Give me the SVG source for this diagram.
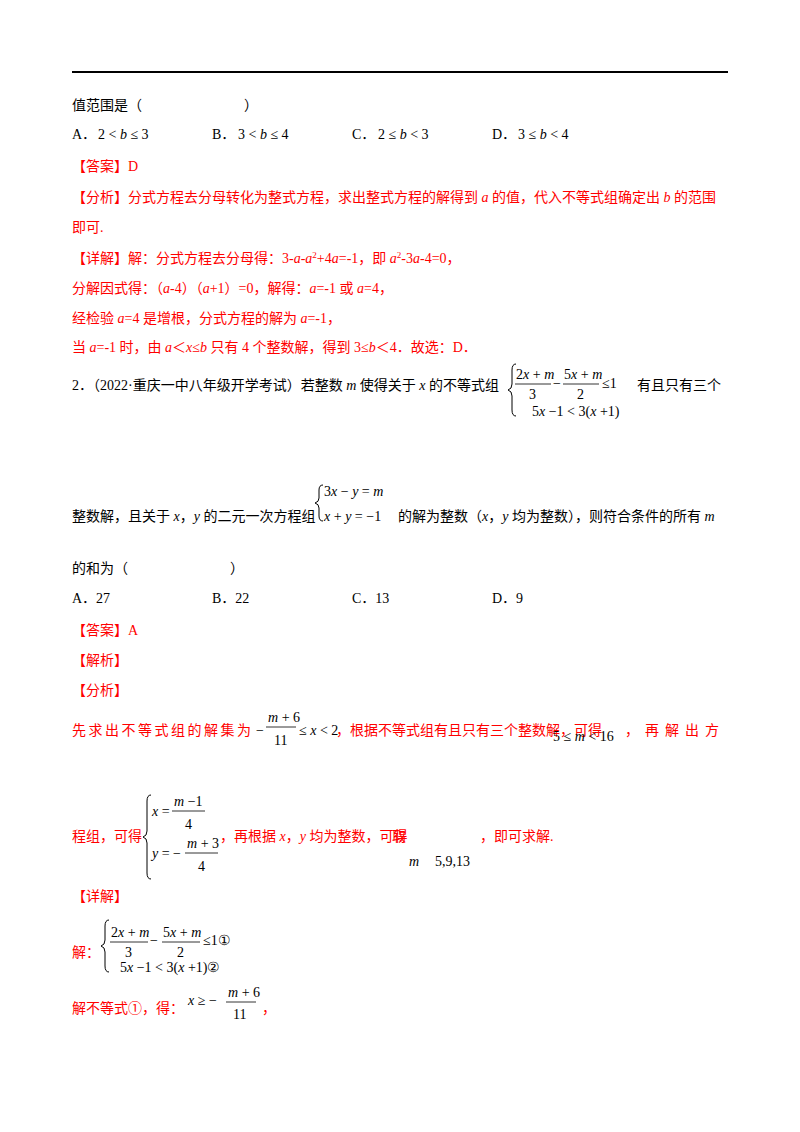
<svg xmlns="http://www.w3.org/2000/svg" width="800" height="1132" viewBox="0 0 800 1132" xml:space="preserve">
<style>
text{font-family:"Liberation Serif","Noto Sans CJK SC",serif;font-size:14px;fill:#000}
.r{fill:#f00}
.m{font-family:"Liberation Serif",serif;font-size:14px}
.i{font-style:italic}
.bar{stroke:#000;stroke-width:0.8}
.br{fill:none;stroke:#000;stroke-width:1}
</style>
<rect width="800" height="1132" fill="#fff"/>
<line x1="72" y1="72" x2="728" y2="72" stroke="#000" stroke-width="2"/>
<text x="72" y="110">值范围是（</text><text x="244" y="110">）</text>
<text x="72" y="139">A．</text><text class="m" x="98" y="139">2 &lt; <tspan class="i">b</tspan> ≤ 3</text>
<text x="212" y="139">B．</text><text class="m" x="238" y="139">3 &lt; <tspan class="i">b</tspan> ≤ 4</text>
<text x="352" y="139">C．</text><text class="m" x="378" y="139">2 ≤ <tspan class="i">b</tspan> &lt; 3</text>
<text x="492" y="139">D．</text><text class="m" x="518" y="139">3 ≤ <tspan class="i">b</tspan> &lt; 4</text>
<g class="r">
<text class="r" x="72" y="171">【答案】D</text>
<text class="r" x="72" y="202">【分析】分式方程去分母转化为整式方程，求出整式方程的解得到 <tspan class="i">a</tspan> 的值，代入不等式组确定出 <tspan class="i">b</tspan> 的范围</text>
<text class="r" x="72" y="232">即可.</text>
<text class="r" x="72" y="263">【详解】解：分式方程去分母得：3-<tspan class="i">a</tspan>-<tspan class="i">a</tspan><tspan font-size="9" dy="-5">2</tspan><tspan dy="5">+4</tspan><tspan class="i">a</tspan>=-1，即 <tspan class="i">a</tspan><tspan font-size="9" dy="-5">2</tspan><tspan dy="5">-3</tspan><tspan class="i">a</tspan>-4=0，</text>
<text class="r" x="72" y="293">分解因式得：（<tspan class="i">a</tspan>-4）（<tspan class="i">a</tspan>+1）=0，解得：<tspan class="i">a</tspan>=-1 或 <tspan class="i">a</tspan>=4，</text>
<text class="r" x="72" y="323">经检验 <tspan class="i">a</tspan>=4 是增根，分式方程的解为 <tspan class="i">a</tspan>=-1，</text>
<text class="r" x="72" y="352">当 <tspan class="i">a</tspan>=-1 时，由 <tspan class="i">a</tspan>＜<tspan class="i">x</tspan>≤<tspan class="i">b</tspan> 只有 4 个整数解，得到 3≤<tspan class="i">b</tspan>＜4．故选：D．</text>
</g>
<text x="72" y="390">2．（2022·重庆一中八年级开学考试）若整数 <tspan class="i">m</tspan> 使得关于 <tspan class="i">x</tspan> 的不等式组</text>
<path class="br" d="M516,364 q-4,0 -4,6 v14 q0,5 -4,6 q4,1 4,6 v14 q0,6 4,6"/>
<text class="m" x="516" y="379">2<tspan class="i">x</tspan> + <tspan class="i">m</tspan></text>
<line class="bar" x1="515" y1="384" x2="551" y2="384"/>
<text class="m" x="529" y="399">3</text>
<text class="m" x="553" y="388">−</text>
<text class="m" x="564" y="379">5<tspan class="i">x</tspan> + <tspan class="i">m</tspan></text>
<line class="bar" x1="563" y1="384" x2="599" y2="384"/>
<text class="m" x="577" y="399">2</text>
<text class="m" x="602" y="388">≤1</text>
<text class="m" x="532" y="416">5<tspan class="i">x</tspan> −1 &lt; 3(<tspan class="i">x</tspan> +1)</text>
<text x="637" y="390">有且只有三个</text>
<path class="br" d="M323,485 q-4,0 -4,5 v8 q0,4 -4,5 q4,1 4,5 v8 q0,5 4,5"/>
<text class="m" x="324" y="496">3<tspan class="i">x</tspan> − <tspan class="i">y</tspan> = <tspan class="i">m</tspan></text>
<text class="m" x="324" y="521"><tspan class="i">x</tspan> + <tspan class="i">y</tspan> = −1</text>
<text x="72" y="521">整数解，且关于 <tspan class="i">x</tspan>，<tspan class="i">y</tspan> 的二元一次方程组</text>
<text x="398" y="521">的解为整数（<tspan class="i">x</tspan>，<tspan class="i">y</tspan> 均为整数），则符合条件的所有 <tspan class="i">m</tspan></text>
<text x="72" y="573">的和为（</text><text x="230" y="573">）</text>
<text x="72" y="603">A．27</text>
<text x="212" y="603">B．22</text>
<text x="352" y="603">C．13</text>
<text x="492" y="603">D．9</text>
<text class="r" x="72" y="635">【答案】A</text>
<text class="r" x="72" y="665">【解析】</text>
<text class="r" x="72" y="695">【分析】</text>
<text class="r" x="72" y="735" letter-spacing="2.5">先求出不等式组的解集为</text>
<text class="m" x="256" y="735">−</text>
<text class="m" x="268" y="722"><tspan class="i">m</tspan> + 6</text>
<line class="bar" x1="266" y1="727" x2="296" y2="727"/>
<text class="m" x="274" y="745">11</text>
<text class="m" x="299" y="735">≤ <tspan class="i">x</tspan> &lt; 2</text>
<text class="r" x="336" y="735" font-size="11.5">，根据不等式组有且只有三个整数解，可得</text>
<text class="m" x="553" y="741">5 ≤ <tspan class="i">m</tspan> &lt; 16</text>
<text class="r" x="625" y="735" letter-spacing="6">，再解出方</text>
<text class="r" x="72" y="841">程组，可得</text>
<path class="br" d="M151,795 q-4,0 -4,6 v30 q0,5 -4,6 q4,1 4,6 v30 q0,6 4,6"/>
<text class="m" x="152" y="816"><tspan class="i">x</tspan> =</text>
<text class="m" x="174" y="806"><tspan class="i">m</tspan> −1</text>
<line class="bar" x1="172" y1="811" x2="205" y2="811"/>
<text class="m" x="185" y="829">4</text>
<text class="m" x="152" y="858"><tspan class="i">y</tspan> = −</text>
<text class="m" x="187" y="848"><tspan class="i">m</tspan> + 3</text>
<line class="bar" x1="185" y1="853" x2="218" y2="853"/>
<text class="m" x="198" y="871">4</text>
<text class="r" x="220" y="841">，再根据 <tspan class="i">x</tspan>，<tspan class="i">y</tspan> 均为整数，可得</text>
<text class="r" x="392" y="841">取</text>
<text class="r" x="480" y="841">，即可求解.</text>
<text class="m i" x="409" y="866">m</text>
<text class="m" x="435" y="866">5,9,13</text>
<text class="r" x="72" y="901">【详解】</text>
<text class="r" x="72" y="957">解：</text>
<path class="br" d="M109,920 q-4,0 -4,6 v14 q0,5 -4,6 q4,1 4,6 v14 q0,6 4,6"/>
<text class="m" x="111" y="937">2<tspan class="i">x</tspan> + <tspan class="i">m</tspan></text>
<line class="bar" x1="110" y1="942" x2="148" y2="942"/>
<text class="m" x="125" y="957">3</text>
<text class="m" x="150" y="945">−</text>
<text class="m" x="163" y="937">5<tspan class="i">x</tspan> + <tspan class="i">m</tspan></text>
<line class="bar" x1="162" y1="942" x2="200" y2="942"/>
<text class="m" x="177" y="957">2</text>
<text class="m" x="203" y="945">≤1①</text>
<text class="m" x="120" y="972">5<tspan class="i">x</tspan> −1 &lt; 3(<tspan class="i">x</tspan> +1)②</text>
<text class="r" x="72" y="1013">解不等式①，得：</text>
<text class="m" x="188" y="1005"><tspan class="i">x</tspan> ≥ −</text>
<text class="m" x="228" y="997"><tspan class="i">m</tspan> + 6</text>
<line class="bar" x1="226" y1="1002" x2="256" y2="1002"/>
<text class="m" x="233" y="1019">11</text>
<text class="r" x="262" y="1013">，</text>
</svg>
